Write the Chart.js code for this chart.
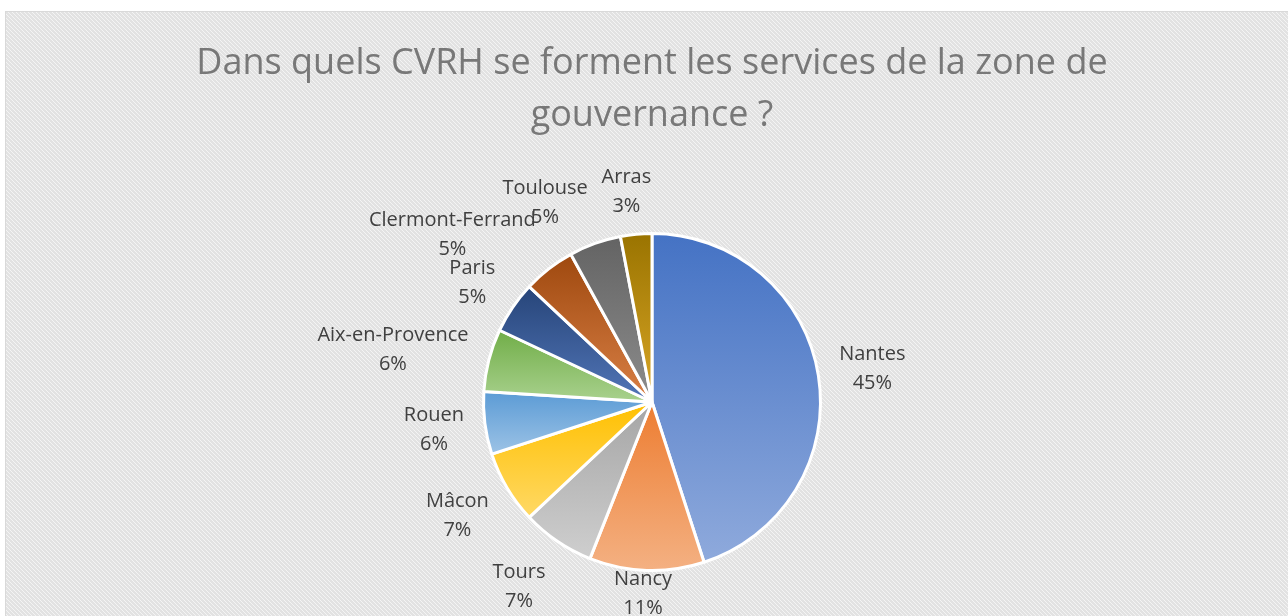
<!DOCTYPE html>
<html>
<head>
<meta charset="utf-8">
<script src="https://cdn.jsdelivr.net/npm/chart.js@4"></script>
<style>
html,body{margin:0;padding:0;background:#fff;}
#wrap{position:relative;width:1288px;height:616px;}
</style>
</head>
<body>
<div id="wrap"><canvas id="c" width="1288" height="616"></canvas></div>
<script>
const categories = ['Nantes','Nancy','Tours','Mâcon','Rouen','Aix-en-Provence','Paris','Clermont-Ferrand','Toulouse','Arras'];
const shares = [45,11,7,7,6,6,5,5,5,3];
const percentLabels = ['45%','11%','7%','7%','6%','6%','5%','5%','5%','3%'];
const titleLines = ['Dans quels CVRH se forment les services de la zone de','gouvernance ?'];
const colorTop = ['#4472c4','#ed7d31','#a5a5a5','#ffc000','#5b9bd5','#70ad47','#264478','#9e480e','#636363','#997300'];
const colorBottom = ['#8faadc','#f4b183','#cfcfcf','#ffd966','#9dc3e6','#a9d18e','#5276b8','#d98046','#8c8c8c','#d9a626'];

function sliceGradient(ctx){
  const chart = ctx.chart, i = ctx.dataIndex, area = chart.chartArea;
  if(!area) return colorTop[i];
  const cx = (area.left+area.right)/2, cy = (area.top+area.bottom)/2;
  const r = Math.min(area.right-area.left, area.bottom-area.top)/2;
  const total = shares.reduce((a,b)=>a+b,0);
  let before = 0; for(let k=0;k<i;k++) before += shares[k];
  const a0 = -Math.PI/2 + 2*Math.PI*before/total;
  const a1 = a0 + 2*Math.PI*shares[i]/total;
  let ys = [cy, cy+r*Math.sin(a0), cy+r*Math.sin(a1)];
  for(const c of [Math.PI/2, 3*Math.PI/2, -Math.PI/2, 5*Math.PI/2]){
    if(c>a0 && c<a1) ys.push(cy+r*Math.sin(c));
  }
  const y0 = Math.min(...ys), y1 = Math.max(...ys);
  const g = chart.ctx.createLinearGradient(0,y0,0,y1);
  g.addColorStop(0,colorTop[i]);
  g.addColorStop(1,colorBottom[i]);
  return g;
}

const bgPlugin = {
  id:'bg',
  beforeDraw(chart){
    const c = chart.ctx;
    const p = document.createElement('canvas'); p.width=4; p.height=4;
    const pc = p.getContext('2d');
    pc.fillStyle='#e2e2e2'; pc.fillRect(0,0,4,4);
    pc.fillStyle='#f4f4f4';
    for(let k=0;k<4;k++){ pc.fillRect(k,k,1,1); }
    c.save();
    c.fillStyle='#ffffff'; c.fillRect(0,0,chart.width,chart.height);
    c.fillStyle = c.createPattern(p,'repeat');
    c.fillRect(5,11,chart.width-5,chart.height-11);
    c.strokeStyle='#d9d9d9'; c.lineWidth=1;
    c.strokeRect(5.5,11.5,chart.width,chart.height);
    c.restore();
  }
};

const labelPlugin = {
  id:'outLabels',
  afterDatasetsDraw(chart){
    const c = chart.ctx;
    const meta = chart.getDatasetMeta(0);
    c.save();
    c.font = '20px "Open Sans"';
    c.fillStyle = '#404040';
    c.textAlign='center'; c.textBaseline='middle';
    const lh = 29, gap = 21;
    meta.data.forEach((el,i)=>{
      const pr = el.getProps(['x','y','startAngle','endAngle','outerRadius'],true);
      const mid = (pr.startAngle+pr.endAngle)/2;
      const dx = Math.cos(mid), dy = Math.sin(mid);
      const ax = pr.x + dx*(pr.outerRadius+gap), ay = pr.y + dy*(pr.outerRadius+gap);
      const w = Math.max(c.measureText(categories[i]).width, c.measureText(percentLabels[i]).width);
      const f = Math.max(-1, Math.min(1, dx/0.3));
      const h = dy > 0 ? 68 : 44;
      const lx = ax + f*w/2;
      let ly = ay + dy*h/2;
      ly = Math.min(ly, chart.height - 22);
      c.fillText(categories[i], lx, ly - lh/2);
      c.fillText(percentLabels[i], lx, ly + lh/2);
    });
    c.restore();
  }
};

new Chart(document.getElementById('c'), {
  type:'pie',
  data:{
    labels: categories,
    datasets:[{
      data: shares,
      backgroundColor: sliceGradient,
      borderColor:'#ffffff',
      borderWidth:3
    }]
  },
  options:{
    responsive:false,
    animation:false,
    layout:{padding:{left:16,right:0,top:0,bottom:44}},
    plugins:{
      legend:{display:false},
      tooltip:{enabled:false},
      title:{
        display:true,
        text: titleLines,
        color:'#787878',
        font:{family:'"Open Sans"', size:36, weight:'normal', lineHeight:'52px'},
        padding:{top:38,bottom:90}
      }
    }
  },
  plugins:[bgPlugin,labelPlugin]
});
</script>
</body>
</html>
